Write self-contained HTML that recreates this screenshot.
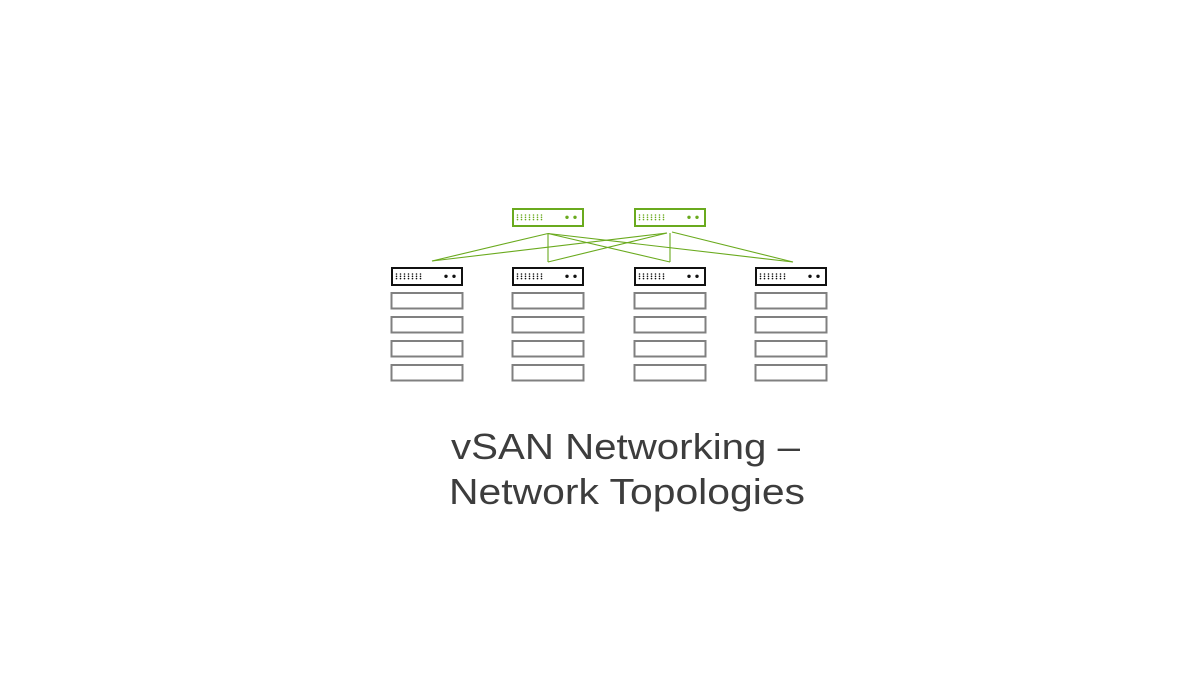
<!DOCTYPE html>
<html><head><meta charset="utf-8"><style>
html,body{margin:0;padding:0;background:#fff;}
svg{display:block;}
</style></head><body>
<svg width="1200" height="675" viewBox="0 0 1200 675" xmlns="http://www.w3.org/2000/svg">
<defs>
<g id="dots">
  <g>
    <circle cx="5.5" cy="7" r="0.8"/><circle cx="9.5" cy="7" r="0.8"/><circle cx="13.5" cy="7" r="0.8"/><circle cx="17.5" cy="7" r="0.8"/><circle cx="21.5" cy="7" r="0.8"/><circle cx="25.5" cy="7" r="0.8"/><circle cx="29.5" cy="7" r="0.8"/>
    <circle cx="5.5" cy="9.3" r="0.8"/><circle cx="9.5" cy="9.3" r="0.8"/><circle cx="13.5" cy="9.3" r="0.8"/><circle cx="17.5" cy="9.3" r="0.8"/><circle cx="21.5" cy="9.3" r="0.8"/><circle cx="25.5" cy="9.3" r="0.8"/><circle cx="29.5" cy="9.3" r="0.8"/>
    <circle cx="5.5" cy="11.6" r="0.8"/><circle cx="9.5" cy="11.6" r="0.8"/><circle cx="13.5" cy="11.6" r="0.8"/><circle cx="17.5" cy="11.6" r="0.8"/><circle cx="21.5" cy="11.6" r="0.8"/><circle cx="25.5" cy="11.6" r="0.8"/><circle cx="29.5" cy="11.6" r="0.8"/>
  </g>
  <circle cx="55" cy="9.3" r="1.7"/><circle cx="63" cy="9.3" r="1.7"/>
</g>
<g id="gsw"><rect x="1" y="1" width="70" height="17" fill="#fff" stroke="#6aaa1e" stroke-width="2"/><g fill="#6aaa1e"><use href="#dots"/></g></g>
<g id="bsw"><rect x="1" y="1" width="70" height="17" fill="#fff" stroke="#111" stroke-width="2"/><g fill="#111"><use href="#dots"/></g></g>
<g id="col">
  <use href="#bsw"/>
  <rect x="0.5" y="26" width="71" height="15.5" fill="none" stroke="#808080" stroke-width="2"/>
  <rect x="0.5" y="50" width="71" height="15.5" fill="none" stroke="#808080" stroke-width="2"/>
  <rect x="0.5" y="74" width="71" height="15.5" fill="none" stroke="#808080" stroke-width="2"/>
  <rect x="0.5" y="98" width="71" height="15.5" fill="none" stroke="#808080" stroke-width="2"/>
</g>
</defs>
<g stroke="#6aaa1e" stroke-width="1.1" fill="none">
  <line x1="548" y1="233.5" x2="432" y2="261"/>
  <line x1="548" y1="233.5" x2="548" y2="262"/>
  <line x1="548" y1="233.5" x2="670" y2="262"/>
  <line x1="548" y1="233.5" x2="793" y2="262"/>
  <line x1="667" y1="233" x2="432" y2="261"/>
  <line x1="667" y1="233" x2="548" y2="262"/>
  <line x1="670" y1="233" x2="670" y2="262"/>
  <line x1="672" y1="232" x2="793" y2="262"/>
</g>
<use href="#gsw" x="512" y="208"/>
<use href="#gsw" x="634" y="208"/>
<use href="#col" x="391" y="267"/>
<use href="#col" x="512" y="267"/>
<use href="#col" x="634" y="267"/>
<use href="#col" x="755" y="267"/>
<g font-family="Liberation Sans, sans-serif" font-size="36" fill="#3d3d3d">
  <text x="451" y="459" textLength="349" lengthAdjust="spacingAndGlyphs">vSAN Networking –</text>
  <text x="449" y="504" textLength="356" lengthAdjust="spacingAndGlyphs">Network Topologies</text>
</g>
</svg>
</body></html>
